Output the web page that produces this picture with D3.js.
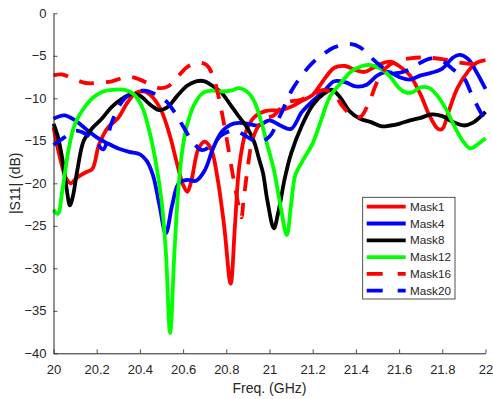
<!DOCTYPE html>
<html>
<head>
<meta charset="utf-8">
<script src="https://cdn.jsdelivr.net/npm/d3@7"></script>
<style>
  html, body { margin: 0; padding: 0; background: #fff; }
  svg { display: block; font-family: "Liberation Sans", Arial, sans-serif; }
</style>
</head>
<body>
<svg id="chart" width="493" height="399"></svg>
<script>
// Reflection coefficient |S11| (dB) versus frequency (GHz) for six mask states.
const xTicks = [20, 20.2, 20.4, 20.6, 20.8, 21, 21.2, 21.4, 21.6, 21.8, 22];
const yTicks = [0, -5, -10, -15, -20, -25, -30, -35, -40];
const seriesNames = ["Mask1", "Mask4", "Mask8", "Mask12", "Mask16", "Mask20"];

const mask1F = [20.0, 20.03, 20.06, 20.08, 20.11, 20.15, 20.18, 20.21, 20.25, 20.3, 20.34, 20.38, 20.42, 20.46, 20.5, 20.54, 20.57, 20.6, 20.62, 20.64, 20.67, 20.7, 20.73, 20.76, 20.79, 20.82, 20.84, 20.86, 20.89, 20.93, 20.98, 21.05, 21.1, 21.15, 21.2, 21.23, 21.27, 21.3, 21.35, 21.4, 21.44, 21.48, 21.52, 21.56, 21.6, 21.65, 21.7, 21.74, 21.78, 21.8, 21.83, 21.87, 21.92, 21.96, 22.0];
const mask1S = [-13.4, -17, -19.5, -20.0, -19.3, -18.7, -18.3, -15.5, -13.5, -12.3, -10.6, -9.4, -9.2, -9.9, -11.5, -14.5, -17.5, -20.2, -21.0, -19.5, -16.0, -15.1, -16.0, -19.5, -25, -31.8, -25, -18, -14.0, -12.2, -11.5, -11.4, -11.0, -10.3, -9.6, -8.6, -7.2, -6.4, -6.2, -6.7, -6.9, -6.4, -5.9, -5.7, -6.2, -7.3, -9.6, -12.0, -13.6, -13.6, -11.5, -8.8, -6.8, -5.8, -5.5];

const mask4F = [20.0, 20.05, 20.1, 20.15, 20.2, 20.25, 20.3, 20.35, 20.4, 20.43, 20.46, 20.49, 20.52, 20.55, 20.58, 20.62, 20.66, 20.7, 20.74, 20.78, 20.82, 20.86, 20.9, 20.95, 21.0, 21.05, 21.1, 21.15, 21.2, 21.25, 21.3, 21.35, 21.4, 21.45, 21.5, 21.55, 21.6, 21.65, 21.7, 21.75, 21.8, 21.85, 21.88, 21.92, 21.96, 22.0];
const mask4S = [-12.4, -12.0, -12.6, -13.6, -14.6, -15.3, -15.9, -16.3, -16.6, -17.3, -19.0, -22.5, -25.9, -22.5, -20.0, -19.6, -19.7, -18.5, -15.8, -13.9, -13.1, -12.9, -13.0, -13.2, -12.6, -13.2, -13.6, -11.6, -10.3, -9.2, -8.0, -8.1, -8.6, -8.4, -7.3, -6.9, -7.5, -7.8, -7.3, -7.0, -6.5, -5.2, -4.9, -5.4, -7.0, -8.9];

const mask8F = [20.0, 20.02, 20.04, 20.06, 20.076, 20.09, 20.11, 20.14, 20.18, 20.22, 20.27, 20.32, 20.36, 20.4, 20.45, 20.49, 20.53, 20.57, 20.62, 20.66, 20.7, 20.74, 20.78, 20.82, 20.86, 20.9, 20.93, 20.95, 20.97, 20.99, 21.02, 21.04, 21.07, 21.1, 21.15, 21.2, 21.25, 21.29, 21.33, 21.37, 21.42, 21.47, 21.52, 21.56, 21.6, 21.65, 21.7, 21.75, 21.8, 21.85, 21.9, 21.94, 22.0];
const mask8S = [-13.0, -14.5, -17, -20.5, -22.6, -21.5, -18.5, -15.0, -13.5, -12.5, -11.0, -10.0, -9.5, -9.7, -10.8, -11.4, -11.0, -9.8, -8.5, -8.0, -8.0, -8.6, -9.4, -10.8, -12.2, -13.6, -15.2, -17.0, -18.8, -22, -25.3, -23.5, -19.5, -16.5, -13.2, -10.8, -9.5, -9.0, -10.0, -11.5, -12.4, -12.8, -13.3, -13.2, -13.0, -12.6, -12.3, -11.9, -12.1, -12.8, -13.2, -12.9, -11.6];

const mask12F = [20.0, 20.02, 20.04, 20.07, 20.1, 20.14, 20.18, 20.23, 20.28, 20.33, 20.37, 20.41, 20.44, 20.47, 20.5, 20.52, 20.54, 20.56, 20.58, 20.6, 20.62, 20.65, 20.69, 20.73, 20.78, 20.82, 20.86, 20.9, 20.93, 20.96, 20.99, 21.02, 21.05, 21.08, 21.1, 21.12, 21.15, 21.2, 21.24, 21.28, 21.33, 21.38, 21.43, 21.47, 21.52, 21.56, 21.6, 21.63, 21.66, 21.7, 21.74, 21.78, 21.82, 21.86, 21.9, 21.93, 21.97, 22.0];
const mask12S = [-23.1, -23.6, -21, -16, -13.0, -11.2, -10.0, -9.2, -9.0, -9.0, -9.5, -11.0, -13.5, -17.0, -22, -28, -37.6, -28, -20, -15.5, -13.0, -10.8, -9.4, -9.1, -9.2, -9.1, -8.8, -9.3, -10.4, -12.6, -15.5, -18.4, -22.5, -26.1, -22.5, -19, -17.5, -15.3, -12.5, -9.8, -8.2, -6.8, -6.2, -6.1, -6.6, -7.5, -8.8, -9.3, -9.3, -8.7, -8.8, -9.8, -11.4, -13.5, -15.2, -15.9, -15.3, -14.7];

const mask16F = [20.0, 20.04, 20.1, 20.15, 20.2, 20.27, 20.32, 20.36, 20.4, 20.45, 20.49, 20.53, 20.57, 20.62, 20.67, 20.71, 20.74, 20.77, 20.8, 20.83, 20.86, 20.87, 20.88, 20.9, 20.92, 20.95, 20.98, 21.02, 21.08, 21.14, 21.2, 21.25, 21.3, 21.34, 21.38, 21.42, 21.46, 21.5, 21.54, 21.58, 21.65, 21.72, 21.8, 21.88, 21.95, 22.0];
const mask16S = [-7.3, -7.2, -7.8, -8.2, -8.2, -8.0, -7.6, -7.5, -7.8, -8.4, -8.8, -8.6, -7.6, -6.3, -5.8, -6.1, -7.5, -10.5, -14.5, -19, -23, -24, -22, -18, -15, -13.2, -12.4, -12.0, -10.5, -10.2, -9.6, -9.0, -9.6, -11.0, -12.0, -12.2, -10.5, -8.0, -6.4, -5.7, -5.3, -5.2, -5.4, -5.8, -6.0, -6.0];

const mask20F = [20.0, 20.05, 20.1, 20.15, 20.2, 20.23, 20.27, 20.32, 20.37, 20.42, 20.47, 20.52, 20.57, 20.6, 20.65, 20.69, 20.74, 20.78, 20.84, 20.9, 20.95, 21.0, 21.05, 21.1, 21.15, 21.2, 21.25, 21.3, 21.37, 21.42, 21.47, 21.52, 21.56, 21.6, 21.65, 21.7, 21.75, 21.8, 21.85, 21.9, 21.93, 21.96, 22.0];
const mask20S = [-15.5, -14.6, -13.8, -14.2, -15.3, -16.0, -12.8, -10.3, -9.3, -9.1, -9.5, -10.3, -12.0, -13.3, -15.3, -16.1, -15.3, -14.3, -13.8, -14.6, -15.2, -14.5, -12.0, -9.2, -7.3, -5.8, -4.8, -4.0, -3.6, -4.0, -5.2, -6.3, -7.0, -7.0, -6.6, -5.8, -5.3, -5.6, -6.6, -7.6, -9.2, -10.8, -12.7];

const seriesColors = ["#ff0000", "#0000ff", "#000000", "#00ff00", "#ff0000", "#0000ff"];
const seriesDashed = [false, false, false, false, true, true];
const seriesData = [
  [mask1F, mask1S], [mask4F, mask4S], [mask8F, mask8S],
  [mask12F, mask12S], [mask16F, mask16S], [mask20F, mask20S]
];

const svg = d3.select("#chart");
const margin = { left: 53.5, right: 7.5, top: 13.3, bottom: 45.7 };
const W = 493, H = 399;

const x = d3.scaleLinear().domain([20, 22]).range([margin.left, W - margin.right]);
const y = d3.scaleLinear().domain([-40, 0]).range([H - margin.bottom, margin.top]);

const axisColor = "#262626";
const lineW = 3.8;

// Traces
const line = d3.line()
  .x(d => x(d[0]))
  .y(d => y(d[1]))
  .curve(d3.curveCatmullRom.alpha(0.5));

const plot = svg.append("g");
seriesData.forEach(([f, s], i) => {
  plot.append("path")
    .datum(f.map((v, k) => [v, s[k]]))
    .attr("d", line)
    .attr("fill", "none")
    .attr("stroke", seriesColors[i])
    .attr("stroke-width", lineW)
    .attr("stroke-linejoin", "round")
    .attr("stroke-dasharray", seriesDashed[i] ? "15,12" : null);
});

// Axes (ticks point into the plot)
const xAxis = d3.axisBottom(x).tickValues(xTicks).tickSizeInner(-4).tickSizeOuter(0)
  .tickPadding(11).tickFormat(d3.format("~g"));
const yAxis = d3.axisLeft(y).tickValues(yTicks).tickSizeInner(-4).tickSizeOuter(0)
  .tickPadding(7).tickFormat(d3.format("~g"));

const gx = svg.append("g").attr("transform", `translate(0,${y(-40)})`).call(xAxis);
const gy = svg.append("g").attr("transform", `translate(${x(20)},0)`).call(yAxis);
[gx, gy].forEach(g => {
  g.selectAll("path").attr("stroke", axisColor).attr("stroke-width", 1);
  g.selectAll("line").attr("stroke", axisColor).attr("stroke-width", 0.8);
  g.selectAll("text").attr("fill", axisColor).style("font-size", "13px")
    .style("font-family", "'Liberation Sans', Arial, sans-serif");
});

// Axis titles
svg.append("text")
  .attr("x", (x(20) + x(22)) / 2).attr("y", 392.5)
  .attr("text-anchor", "middle").attr("fill", axisColor)
  .style("font-size", "14px")
  .text("Freq. (GHz)");
svg.append("text")
  .attr("transform", `translate(19.5,${(y(0) + y(-40)) / 2}) rotate(-90)`)
  .attr("text-anchor", "middle").attr("fill", axisColor)
  .style("font-size", "14px")
  .text("|S11| (dB)");

// Legend
const lg = svg.append("g");
const lx0 = 362.7, ly0 = 197.3, lw = 92.3, lh = 101.7;
lg.append("rect").attr("x", lx0).attr("y", ly0).attr("width", lw).attr("height", lh)
  .attr("fill", "#fff").attr("stroke", axisColor).attr("stroke-width", 0.8);
seriesNames.forEach((name, i) => {
  const yy = 206.7 + i * 16.8;
  lg.append("line")
    .attr("x1", 366.7).attr("x2", 405.7).attr("y1", yy).attr("y2", yy)
    .attr("stroke", seriesColors[i]).attr("stroke-width", lineW)
    .attr("stroke-dasharray", seriesDashed[i] ? "16,15" : null);
  lg.append("text")
    .attr("x", 410).attr("y", yy).attr("dy", "0.35em")
    .attr("fill", axisColor).style("font-size", "11.7px")
    .text(name);
});
</script>
</body>
</html>
